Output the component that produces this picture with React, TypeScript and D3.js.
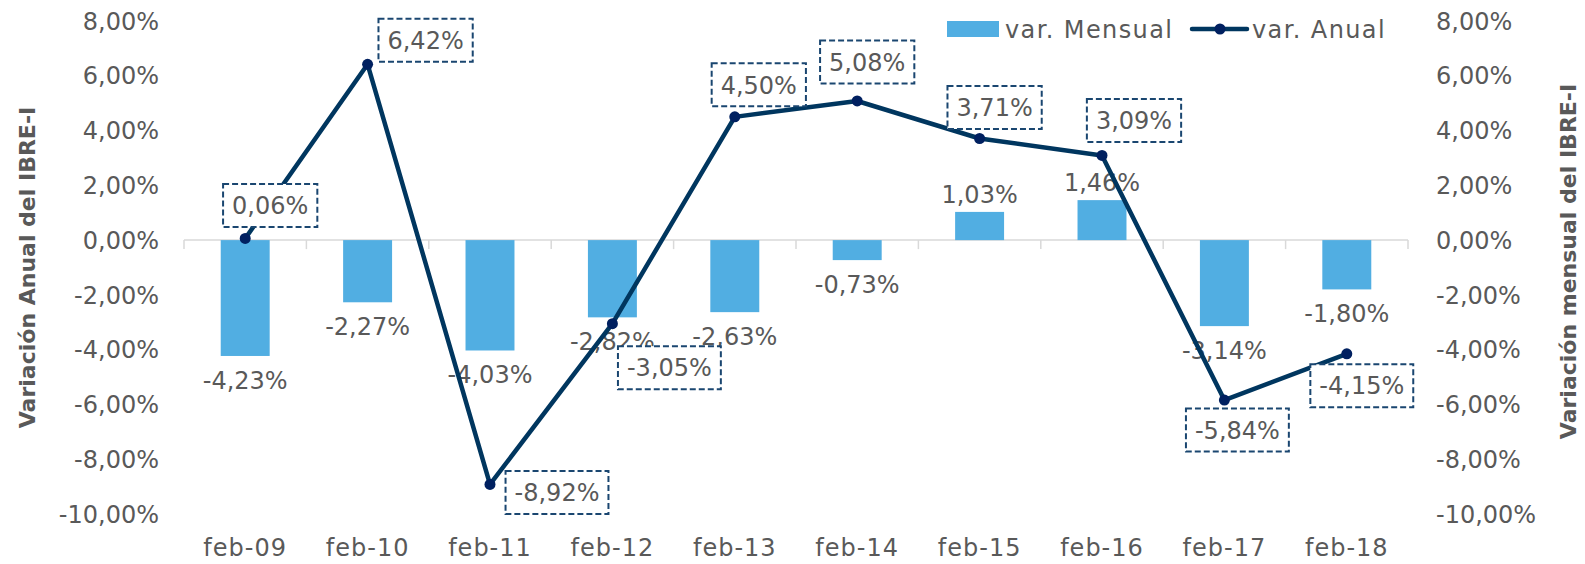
import React, { useRef, useEffect } from "react";
import * as d3 from "d3";

const categories = ["feb-09", "feb-10", "feb-11", "feb-12", "feb-13", "feb-14", "feb-15", "feb-16", "feb-17", "feb-18"];
const mensual = [-4.23, -2.27, -4.03, -2.82, -2.63, -0.73, 1.03, 1.46, -3.14, -1.8];
const anual = [0.06, 6.42, -8.92, -3.05, 4.5, 5.08, 3.71, 3.09, -5.84, -4.15];
const yTicks = [8, 6, 4, 2, 0, -2, -4, -6, -8, -10];

// where Excel put each annual label box, relative to its point
const boxOffsets = [
  [25, -33], [58, -24], [67, 8], [57, 44], [24, -32],
  [10, -39], [15, -31], [32, -35], [13, 30], [15, 32],
];

const fmt = (v: number) => v.toFixed(2).replace(".", ",") + "%";

export default function App() {
  const ref = useRef<SVGSVGElement>(null);

  useEffect(() => {
    const width = 1585;
    const height = 564;
    const margin = { top: 21, right: 177, bottom: 50, left: 184 };
    const font = "'Century Gothic', 'DejaVu Sans', sans-serif";
    const grey = "#595959";

    const svg = d3.select(ref.current);
    svg.selectAll("*").remove();
    svg.attr("width", width).attr("height", height);

    const x = d3
      .scaleBand()
      .domain(categories)
      .range([margin.left, width - margin.right])
      .paddingInner(0.6)
      .paddingOuter(0.3);

    const y = d3
      .scaleLinear()
      .domain([-10, 8])
      .range([height - margin.bottom, margin.top]);

    const cx = (i: number) => x(categories[i])! + x.bandwidth() / 2;

    // zero line + category ticks
    const zero = y(0);
    svg.append("line")
      .attr("x1", margin.left).attr("x2", width - margin.right)
      .attr("y1", zero).attr("y2", zero)
      .attr("stroke", "#D9D9D9").attr("stroke-width", 1.5);
    const bounds = categories.map(c => x(c)! - (x.step() - x.bandwidth()) / 2).concat([width - margin.right]);
    svg.selectAll(".tick-c")
      .data(bounds)
      .enter()
      .append("line")
      .attr("x1", d => d).attr("x2", d => d)
      .attr("y1", zero).attr("y2", zero + 9)
      .attr("stroke", "#D9D9D9").attr("stroke-width", 1.5);

    // y tick labels, both sides
    const yl = svg.append("g").attr("font-family", font).attr("font-size", 24).attr("fill", grey);
    yl.selectAll(".yl")
      .data(yTicks)
      .enter()
      .append("text")
      .attr("x", 159)
      .attr("y", d => y(d))
      .attr("dy", "0.36em")
      .attr("text-anchor", "end")
      .text(d => fmt(d));
    yl.selectAll(".yr")
      .data(yTicks)
      .enter()
      .append("text")
      .attr("x", 1436)
      .attr("y", d => y(d))
      .attr("dy", "0.36em")
      .attr("text-anchor", "start")
      .text(d => fmt(d));

    // category labels
    svg.append("g")
      .selectAll("text")
      .data(categories)
      .enter()
      .append("text")
      .attr("x", d => x(d)! + x.bandwidth() / 2)
      .attr("y", 547)
      .attr("dy", "0.36em")
      .attr("text-anchor", "middle")
      .attr("font-family", font)
      .attr("font-size", 24)
      .attr("letter-spacing", 1)
      .attr("fill", grey)
      .text(d => d);

    // axis titles
    const plotMid = (y(8) + y(-10)) / 2;
    svg.append("text")
      .attr("transform", `translate(27,${plotMid}) rotate(-90)`)
      .attr("text-anchor", "middle")
      .attr("dy", "0.36em")
      .attr("font-family", font)
      .attr("font-weight", "bold")
      .attr("font-size", 22)
      .attr("fill", grey)
      .text("Variación Anual del IBRE-I");
    svg.append("text")
      .attr("transform", `translate(1568,${plotMid - 6}) rotate(-90)`)
      .attr("text-anchor", "middle")
      .attr("dy", "0.36em")
      .attr("font-family", font)
      .attr("font-weight", "bold")
      .attr("font-size", 22)
      .attr("fill", grey)
      .text("Variación mensual del IBRE-I");

    // bars
    svg.append("g")
      .selectAll("rect")
      .data(mensual)
      .enter()
      .append("rect")
      .attr("x", (d, i) => x(categories[i])!)
      .attr("y", d => y(Math.max(0, d)))
      .attr("width", x.bandwidth())
      .attr("height", d => Math.abs(y(d) - y(0)))
      .attr("fill", "#51AEE2");

    // bar labels
    svg.append("g")
      .selectAll("text")
      .data(mensual)
      .enter()
      .append("text")
      .attr("x", (d, i) => cx(i))
      .attr("y", d => (d < 0 ? y(d) + 33 : y(d) - 9))
      .attr("text-anchor", "middle")
      .attr("font-family", font)
      .attr("font-size", 24)
      .attr("fill", grey)
      .text(d => fmt(d));

    // annual line
    const line = d3.line<number>()
      .x((d, i) => cx(i))
      .y(d => y(d));
    svg.append("path")
      .datum(anual)
      .attr("d", line)
      .attr("fill", "none")
      .attr("stroke", "#00365F")
      .attr("stroke-width", 4.5)
      .attr("stroke-linejoin", "round");
    svg.append("g")
      .selectAll("circle")
      .data(anual)
      .enter()
      .append("circle")
      .attr("cx", (d, i) => cx(i))
      .attr("cy", d => y(d))
      .attr("r", 5.5)
      .attr("fill", "#002060");

    // annual label boxes
    const boxes = svg.append("g")
      .selectAll("g")
      .data(anual)
      .enter()
      .append("g")
      .attr("transform", (d, i) => `translate(${cx(i) + boxOffsets[i][0]},${y(d) + boxOffsets[i][1]})`);
    boxes.append("rect").attr("class", "box");
    boxes.append("text")
      .attr("text-anchor", "middle")
      .attr("dy", "0.36em")
      .attr("font-family", font)
      .attr("font-size", 24)
      .attr("fill", grey)
      .text(d => fmt(d));
    boxes.each(function () {
      const g = d3.select(this);
      const tw = (g.select("text").node() as SVGTextElement).getComputedTextLength();
      const w = tw + 18;
      const h = 43;
      g.select("rect")
        .attr("x", -w / 2).attr("y", -h / 2)
        .attr("width", w).attr("height", h)
        .attr("fill", "white")
        .attr("stroke", "#1A4670")
        .attr("stroke-width", 2)
        .attr("stroke-dasharray", "6,3");
    });

    // legend
    const lg = svg.append("g").attr("font-family", font).attr("font-size", 24).attr("fill", grey);
    lg.append("rect").attr("x", 947).attr("y", 21).attr("width", 52).attr("height", 16).attr("fill", "#51AEE2");
    lg.append("text").attr("x", 1005).attr("y", 29).attr("dy", "0.36em").attr("letter-spacing", 1.4).text("var. Mensual");
    lg.append("line").attr("x1", 1192).attr("x2", 1247).attr("y1", 29).attr("y2", 29)
      .attr("stroke", "#00365F").attr("stroke-width", 4.5).attr("stroke-linecap", "round");
    lg.append("circle").attr("cx", 1220).attr("cy", 29).attr("r", 5.5).attr("fill", "#002060");
    lg.append("text").attr("x", 1252).attr("y", 29).attr("dy", "0.36em").attr("letter-spacing", 1.4).text("var. Anual");
  }, []);

  return (
    <svg ref={ref} style={{ position: "absolute", left: 0, top: 0, background: "white" }}></svg>
  );
}
